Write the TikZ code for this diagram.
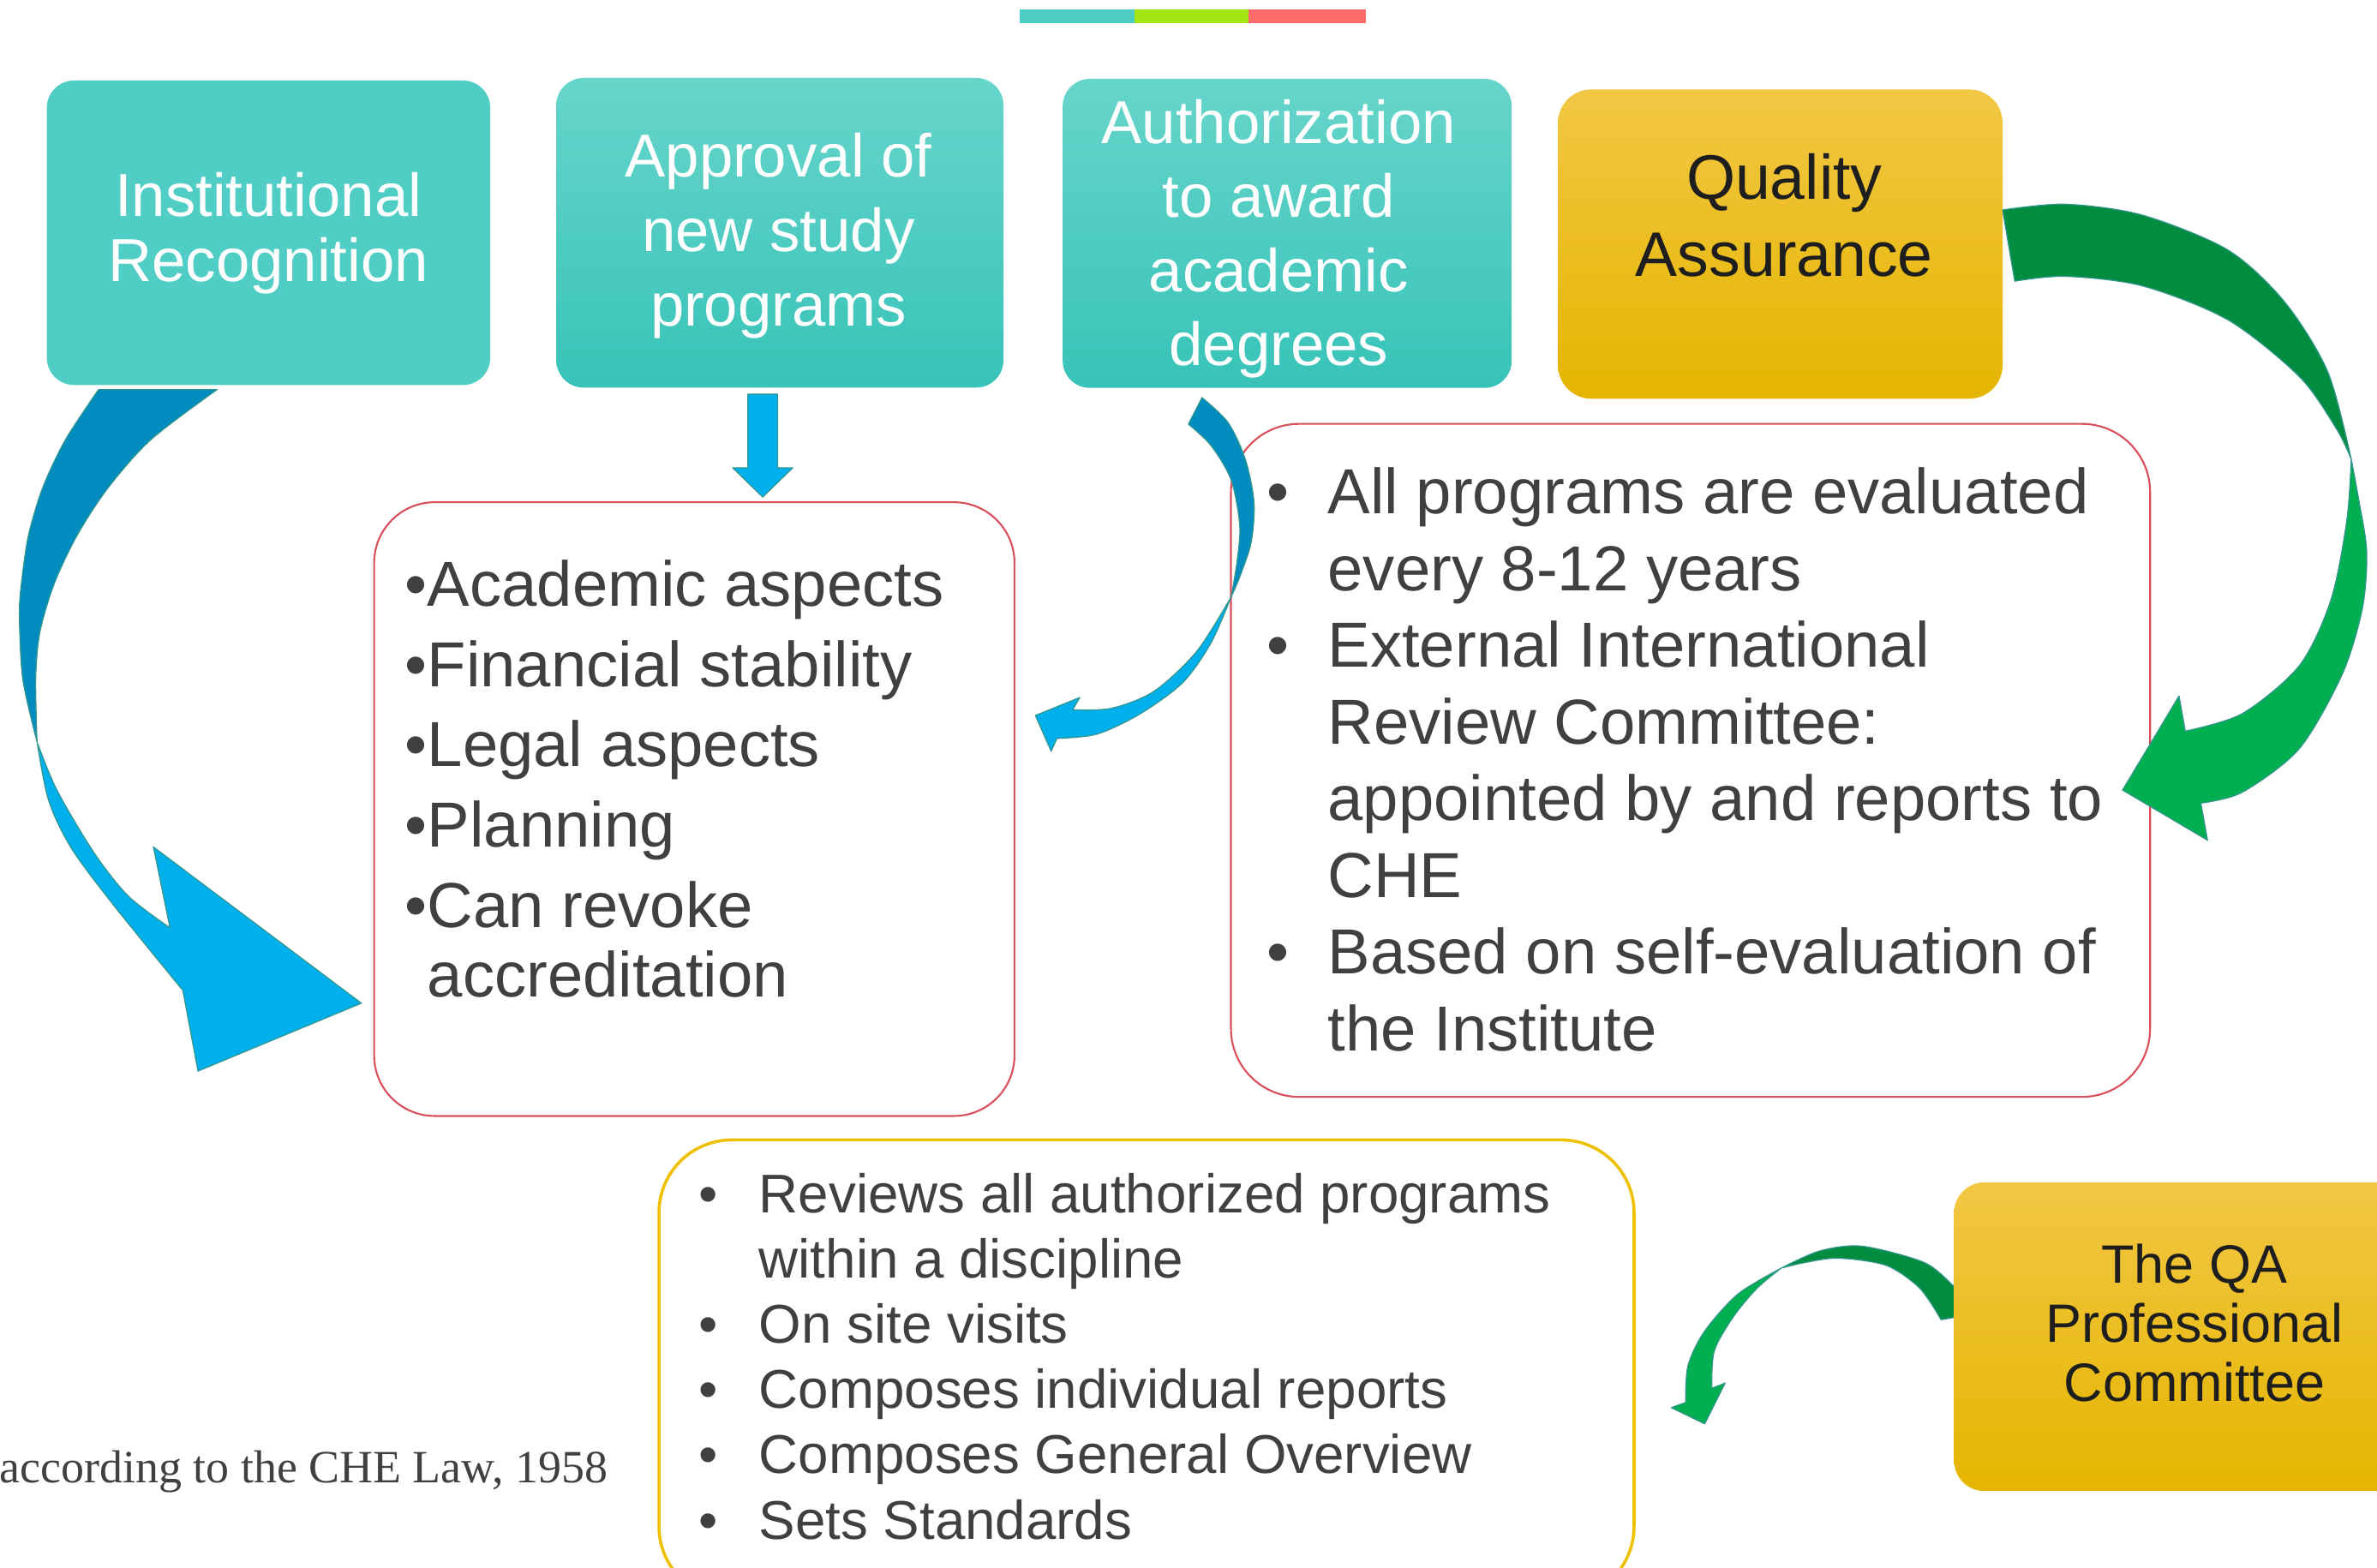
\documentclass[tikz,border=0pt]{standalone}
\usepackage{fontspec}
\setmainfont{Liberation Sans}
\newfontfamily\notefont{Liberation Serif}
\definecolor{tealflat}{HTML}{50CDC4}
\definecolor{tealtop}{HTML}{67D5CB}
\definecolor{tealbot}{HTML}{38C3B8}
\definecolor{ytop}{HTML}{F2C744}
\definecolor{ymid}{HTML}{F5C400}
\definecolor{ybot}{HTML}{E5B500}
\definecolor{txtgray}{HTML}{404040}
\definecolor{qatxt}{HTML}{1E1E1E}
\definecolor{redline}{HTML}{D9505C}
\definecolor{yline}{HTML}{EEC000}
\definecolor{bdark}{HTML}{008CBF}
\definecolor{blight}{HTML}{00B0EC}
\definecolor{gdark}{HTML}{028C3F}
\definecolor{glight}{HTML}{00AF50}
\definecolor{arrline}{HTML}{35968F}
\definecolor{barT}{HTML}{4ECDC4}
\definecolor{barG}{HTML}{A5E612}
\definecolor{barR}{HTML}{FF6B6B}
\newcommand\mybul[1]{\makebox[#1][l]{•}}
\tikzset{
  tealbox/.style={rectangle, rounded corners=18bp, draw=none, inner sep=0pt},
  yellowbox/.style={rectangle, rounded corners=22bp, draw=none, inner sep=0pt,
    top color=ytop, middle color=ymid, bottom color=ybot},
  redbox/.style={rectangle, draw=redline, line width=1.2bp, fill=white, inner sep=0pt},
  goldbox/.style={rectangle, draw=yline, line width=2bp, fill=white, inner sep=0pt},
  whitetext/.style={inner sep=0pt, align=center, text=white},
  darktext/.style={inner sep=0pt, align=center, text=qatxt},
  listtext/.style={inner sep=0pt, anchor=north west, text=txtgray},
  arrshape/.style={draw=arrline, line width=0.7bp, line join=round}
}
\begin{document}
\begin{tikzpicture}[x=1bp,y=-1bp]
\useasboundingbox (0,0) rectangle (1568,1034);
\clip (0,0) rectangle (1568,1034);

% top colour bar
\fill[barT] (672.7,6.2) rectangle (748.5,15.1);
\fill[barG] (748.5,6.2) rectangle (823.6,15.1);
\fill[barR] (823.6,6.2) rectangle (901,15.1);

% white boxes
\node[redbox, rounded corners=40bp, minimum width=422.4bp, minimum height=404.9bp] (r1) at (458,533.75) {};
\node[redbox, rounded corners=45bp, minimum width=606.3bp, minimum height=444bp] (r2) at (1115.15,501.6) {};
\node[goldbox, rounded corners=48bp, minimum width=643.2bp, minimum height=303bp] (yb) at (756.3,903.5) {};

% top boxes
\node[tealbox, fill=tealflat, minimum width=292.5bp, minimum height=200.9bp] (b1) at (177.15,153.55) {};
\node[tealbox, top color=tealtop, bottom color=tealbot, minimum width=294.9bp, minimum height=204.3bp] (b2) at (514.45,153.55) {};
\node[tealbox, top color=tealtop, bottom color=tealbot, minimum width=296.2bp, minimum height=203.9bp] (b3) at (849.1,153.95) {};
\node[yellowbox, minimum width=293.3bp, minimum height=204bp] (bqa) at (1174.35,161) {};

\node[whitetext, font=\fontsize{40bp}{43.3bp}\selectfont] (t1) at (177,153.9) {Institutional\\Recognition};
\node[whitetext, font=\fontsize{40bp}{49bp}\selectfont] (t2) at (513.5,155.5) {Approval of\\new study\\programs};
\node[whitetext, font=\fontsize{40bp}{48.9bp}\selectfont] (t3) at (843.5,157.6) {Authorization\\to award\\academic\\degrees};
\node[darktext, font=\fontsize{41.5bp}{50.9bp}\selectfont] (tqa) at (1177,142.1) {Quality\\Assurance};

% lists
\node[listtext, font=\fontsize{42bp}{46bp}\selectfont] (l1) at (267,367.4)
 {\begin{tabular}{@{}l@{}l@{}}•&Academic aspects\\[7bp]•&Financial stability\\[7bp]•&Legal aspects\\[7bp]•&Planning\\[7bp]•&Can revoke\\&accreditation\end{tabular}};
\node[listtext, font=\fontsize{42bp}{50.6bp}\selectfont] (l2) at (835.5,303.3)
 {\begin{tabular}{@{}l@{}l@{}}\mybul{40.2bp}&All programs are evaluated\\&every 8-12 years\\\mybul{40.2bp}&External International\\&Review Committee:\\&appointed by and reports to\\&CHE\\\mybul{40.2bp}&Based on self-evaluation of\\&the Institute\end{tabular}};
\node[listtext, font=\fontsize{36bp}{43bp}\selectfont] (l3) at (460.5,769.9)
 {\begin{tabular}{@{}l@{}l@{}}\mybul{40bp}&Reviews all authorized programs\\&within a discipline\\\mybul{40bp}&On site visits\\\mybul{40bp}&Composes individual reports\\\mybul{40bp}&Composes General Overview\\\mybul{40bp}&Sets Standards\end{tabular}};

\node[anchor=base east, inner sep=0pt, text=txtgray, font=\notefont\fontsize{30.5bp}{34bp}\selectfont] (fn) at (401,978) {according to the CHE Law, 1958};

% small down arrow
\path[arrshape, fill=blight] (493.3,260) -- (512.9,260) -- (512.9,308.6) -- (523,308.6) -- (503.1,327.9) -- (483.3,308.6) -- (493.3,308.6) -- cycle;

% big left blue arrow
\path[arrshape, fill=bdark] plot[smooth] coordinates {(65,257) (43.4,289.7) (28.3,321.4) (18.8,353.1) (14.1,385) (12.8,407) (15.1,448.5) (24.5,489.7)}
  -- plot[smooth] coordinates {(24.5,489.7) (24.1,480) (23.6,445.2) (26.4,416.6) (35.8,385) (50.9,353.1) (71.6,321.4) (99.9,289.7) (143.2,257)} -- cycle;
\path[arrshape, fill=blight] plot[smooth] coordinates {(24.5,489.7) (37.7,521.5) (62.2,562.8) (84.8,591.3) (112.1,612)}
  -- (101.2,558.7) -- (238.4,661.8) -- (130.6,706.6) -- (120.6,653.3)
  -- plot[smooth] coordinates {(120.6,653.3) (75.4,597.7) (47.1,559.6) (32,527.8) (24.5,489.7)} -- cycle;

% blue arrow from b3 to r1
\path[arrshape, fill=bdark] (783.9,279.8) -- (792.9,262.3)
  -- plot[smooth] coordinates {(792.9,262.3) (810.2,278.9) (821.6,303.4) (827.2,331.6) (825.3,358) (817.8,380.6) (812.1,393.8)}
  -- plot[smooth] coordinates {(812.1,393.8) (815.9,371.2) (817.8,346.7) (812.1,316.6) (798.9,294) (783.9,279.8)} -- cycle;
\path[arrshape, fill=blight] plot[smooth] coordinates {(812.1,393.8) (798.9,424) (780.1,450.4) (751.8,471.1) (723.6,484.3) (697.2,487.1)}
  -- (693.4,495.6) -- (683,472) -- (712.3,460.1) -- (707.6,468.2)
  -- plot[smooth] coordinates {(707.6,468.2) (733,467.3) (761.3,456) (789.5,429.6) (812.1,393.8)} -- cycle;

% big green arrow
\path[arrshape, fill=gdark] (1321,138.5)
  -- plot[smooth] coordinates {(1321,138.5) (1362.4,134.7) (1413.2,141.9) (1469.8,165) (1507.4,199.6) (1535.7,245.7) (1551,303)}
  -- plot[smooth] coordinates {(1551,303) (1541.4,283.2) (1516.9,248.6) (1469.8,211.1) (1413.2,188.6) (1362.4,182.3) (1329,185.5)} -- cycle;
\path[arrshape, fill=glight] plot[smooth] coordinates {(1551,303) (1556,330) (1561.2,364) (1558.3,401.5) (1545.1,444.7) (1516.8,493.8) (1479.2,522.6) (1451.8,529.8)}
  -- (1456.2,554.3) -- (1400.1,521.2) -- (1437.4,459.1) -- (1441.5,482.3)
  -- plot[smooth] coordinates {(1441.5,482.3) (1479.2,470.7) (1516.9,438.9) (1537.6,395.7) (1548,343.8) (1551,303)} -- cycle;

% small green arrow
\path[arrshape, fill=gdark] plot[smooth] coordinates {(1296,855) (1289.3,848.9) (1269.4,832.9) (1228.4,822.1) (1200.1,825.3) (1174.9,836.6)}
  -- plot[smooth] coordinates {(1174.9,836.6) (1190.6,832.9) (1212.7,830) (1244.2,834.8) (1266.3,849.8) (1280.4,870.6)}
  -- (1296,868) -- cycle;
\path[arrshape, fill=glight] plot[smooth] coordinates {(1174.9,836.6) (1146.5,853.6) (1124.5,878.1) (1113.5,900.7) (1111.9,925.2)}
  -- (1102.4,928.6) -- (1124.5,939.3) -- (1138,912.4) -- (1129.2,915.8)
  -- plot[smooth] coordinates {(1129.2,915.8) (1130.8,891.3) (1143.4,868.7) (1159.1,849.8) (1174.9,836.6)} -- cycle;

% QA professional committee box
\node[yellowbox, rounded corners=20bp, minimum width=311bp, minimum height=203.6bp] (bqp) at (1444.5,881.8) {};
\node[darktext, font=\fontsize{35.6bp}{39bp}\selectfont] (tqp) at (1447.5,872.8) {The QA\\Professional\\Committee};
\end{tikzpicture}
\end{document}
